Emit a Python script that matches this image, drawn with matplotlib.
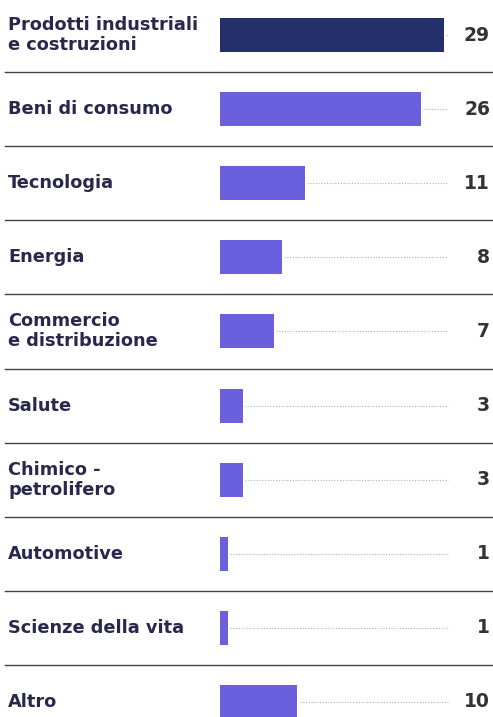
import matplotlib.pyplot as plt
import matplotlib.transforms as mtransforms

# data
categories = ['Prodotti industriali\ne costruzioni', 'Beni di consumo', 'Tecnologia',
              'Energia', 'Commercio\ne distribuzione', 'Salute', 'Chimico -\npetrolifero',
              'Automotive', 'Scienze della vita', 'Altro']
values = [29, 26, 11, 8, 7, 3, 3, 1, 1, 10]

W, H = 493, 717
px_per_unit = 7.72
bar_x0 = 220
row_top = 35
row_step = 74.1

fig = plt.figure(figsize=(W / 100, H / 100), dpi=100)
ax = fig.add_axes([0, 0, 1, 1])
ax.set_xlim(-bar_x0 / px_per_unit, (W - bar_x0) / px_per_unit)
ax.set_ylim(9 + (H - 702) / row_step, -row_top / row_step)
ax.axis('off')

fam = ['DejaVu Sans']
label_col = '#29284c'
trans = mtransforms.blended_transform_factory(ax.transAxes, ax.transData)

ys = list(range(len(values)))
colors = ['#23306b'] + ['#6a5fdc'] * (len(values) - 1)
ax.barh(ys, values, left=0, height=0.46, color=colors)

dot_end = (448 - bar_x0) / px_per_unit
for y, v, lab in zip(ys, values, categories):
    ax.text(8 / W, y, lab, transform=trans, ha='left', va='center',
            fontsize=12.8, fontweight='bold', color=label_col, family=fam,
            linespacing=1.15)
    ax.text(490 / W, y, str(v), transform=trans, ha='right', va='center',
            fontsize=13.5, fontweight='bold', color='#333333', family=fam)
    if v < dot_end - 0.5:
        ax.plot([v + 0.3, dot_end], [y, y], color='#b0b0b0', lw=0.8,
                linestyle=(0, (1, 1.5)))

for i in range(len(values) - 1):
    ax.plot([5 / W, 1], [i + 0.5, i + 0.5], transform=trans, color='#444444', lw=1.0)

fig.savefig('out.png', dpi=100, facecolor='white')
